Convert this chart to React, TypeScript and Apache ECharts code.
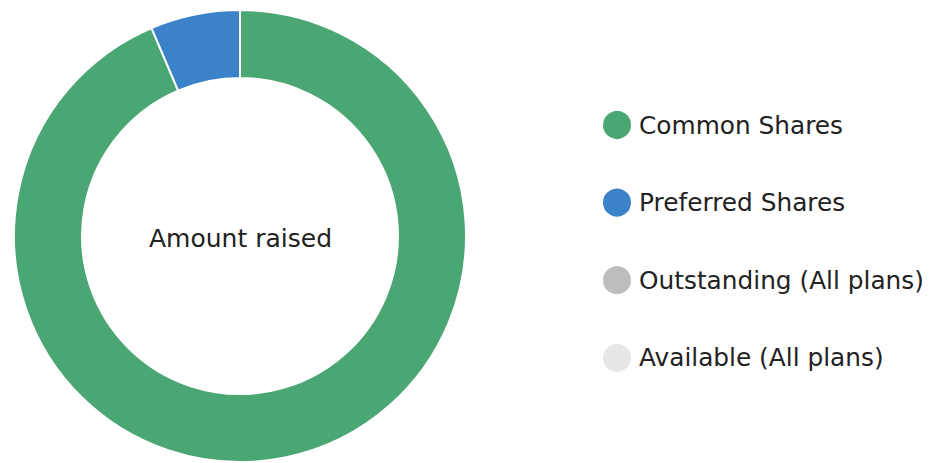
import React, { useEffect, useRef } from "react";
import * as echarts from "echarts";

const categories = ["Common Shares", "Preferred Shares", "Outstanding (All plans)", "Available (All plans)"];
const values = [93.6, 6.4, 0, 0];
const colors = ["#4aa672", "#3b82c9", "#bdbdbd", "#e7e7e7"];
const centerLabel = "Amount raised";

export default function App() {
  const ref = useRef<HTMLDivElement>(null);
  useEffect(() => {
    if (!ref.current) return;
    const chart = echarts.init(ref.current, null, { renderer: "svg" });
    chart.setOption({
      animation: false,
      backgroundColor: "#ffffff",
      color: colors,
      graphic: [
        {
          type: "text",
          x: 240.5,
          y: 238,
          style: {
            text: centerLabel,
            align: "center",
            verticalAlign: "middle",
            fontFamily: "DejaVu Sans",
            fontSize: 25,
            fill: "#222222",
          },
        },
      ],
      legend: {
        orient: "vertical",
        left: 601,
        top: 109,
        padding: 0,
        icon: "circle",
        itemWidth: 30,
        itemHeight: 30,
        itemGap: 45.6,
        selectedMode: false,
        textStyle: {
          fontFamily: "DejaVu Sans",
          fontSize: 24.8,
          lineHeight: 30,
          color: "#222222",
          padding: [0, 0, 0, 2],
        },
        data: categories,
      },
      series: [
        {
          type: "pie",
          center: [240, 236],
          radius: [158, 226],
          startAngle: 90,
          clockwise: true,
          label: { show: false },
          labelLine: { show: false },
          emphasis: { disabled: true },
          itemStyle: { borderColor: "#ffffff", borderWidth: 2 },
          data: categories.map((name, i) => ({ name, value: values[i] })),
        },
      ],
    });
    return () => chart.dispose();
  }, []);
  return <div ref={ref} style={{ position: "fixed", left: 0, top: 0, width: 929, height: 463 }} />;
}
